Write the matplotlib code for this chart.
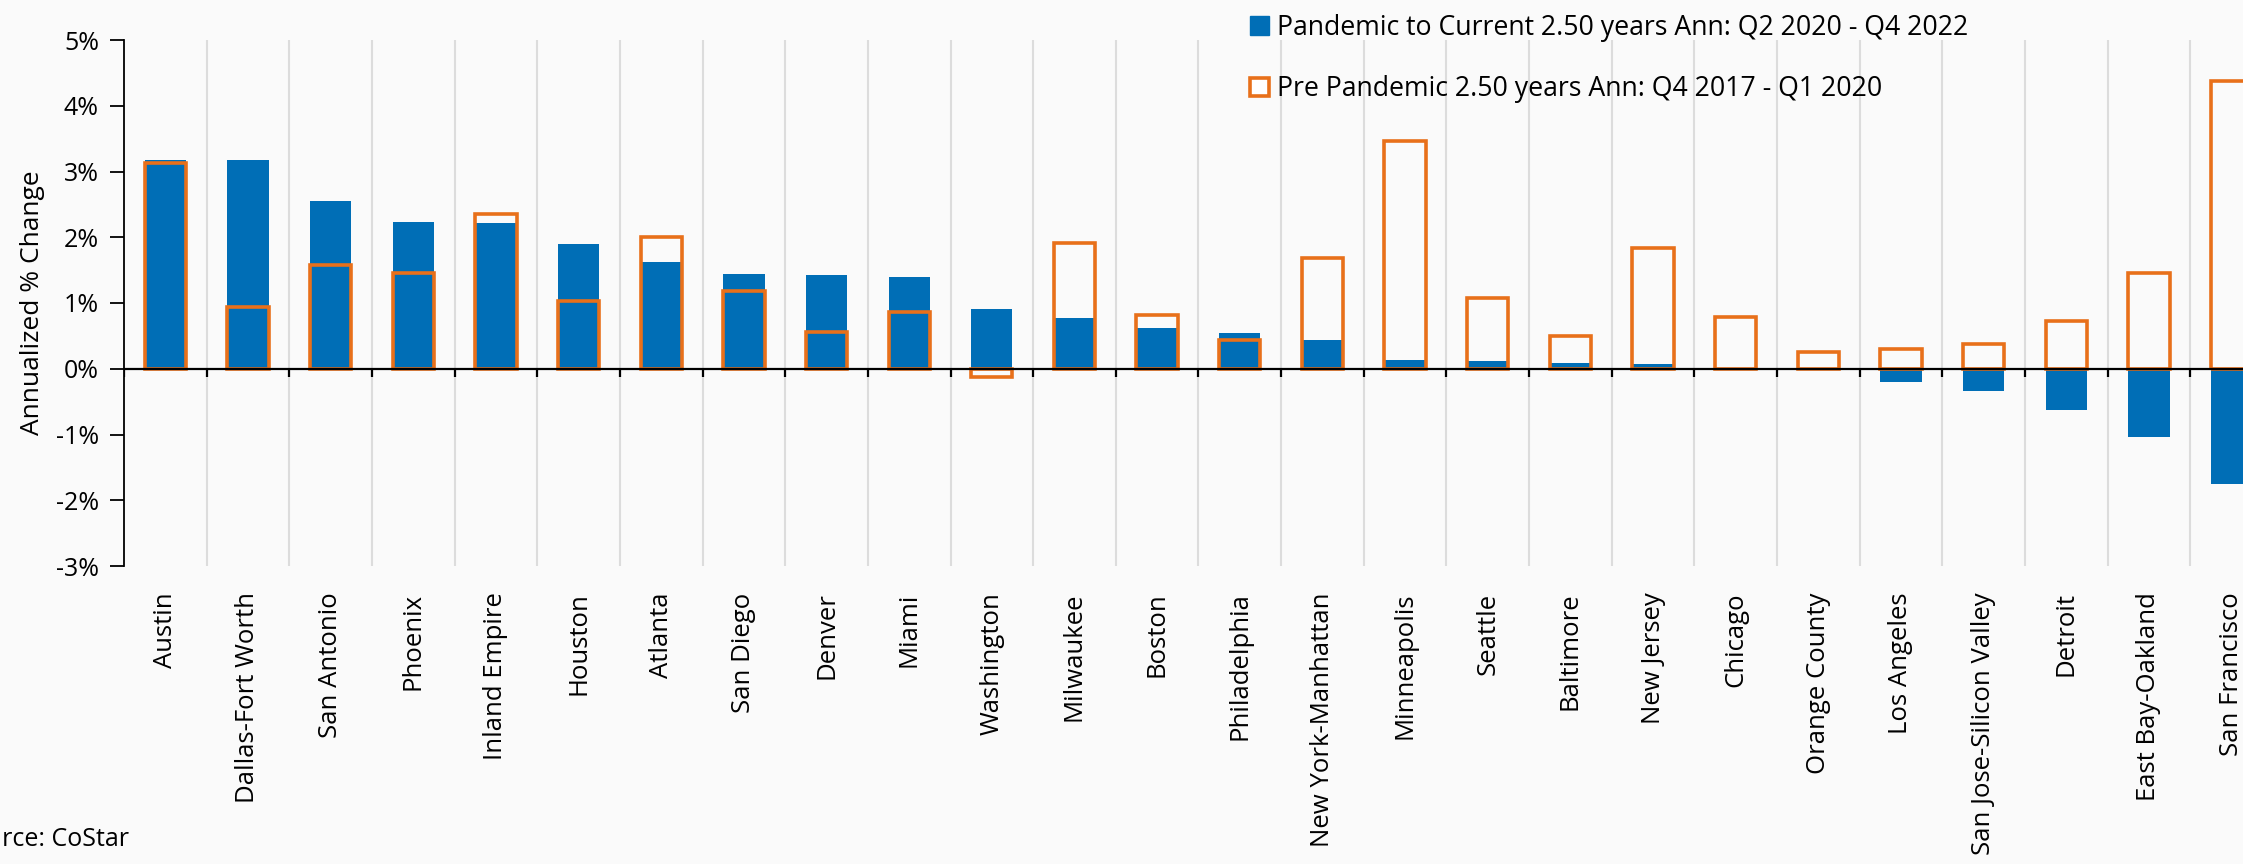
import numpy as np
import matplotlib.pyplot as plt
from matplotlib.patches import Patch

markets = ["Austin", "Dallas-Fort Worth", "San Antonio", "Phoenix", "Inland Empire",
           "Houston", "Atlanta", "San Diego", "Denver", "Miami", "Washington",
           "Milwaukee", "Boston", "Philadelphia", "New York-Manhattan", "Minneapolis",
           "Seattle", "Baltimore", "New Jersey", "Chicago", "Orange County",
           "Los Angeles", "San Jose-Silicon Valley", "Detroit", "East Bay-Oakland",
           "San Francisco"]
pandemic = [3.18, 3.17, 2.55, 2.23, 2.21, 1.90, 1.63, 1.44, 1.43, 1.39, 0.91,
            0.77, 0.62, 0.54, 0.43, 0.14, 0.12, 0.09, 0.07, 0.01, -0.02,
            -0.20, -0.34, -0.62, -1.04, -1.75]
pre_pandemic = [3.13, 0.94, 1.58, 1.45, 2.36, 1.03, 2.01, 1.19, 0.56, 0.86, -0.12,
                1.91, 0.82, 0.44, 1.68, 3.46, 1.08, 0.50, 1.83, 0.79, 0.25,
                0.30, 0.37, 0.72, 1.45, 4.37]
yticks = [-3, -2, -1, 0, 1, 2, 3, 4, 5]

blue = "#006EB6"
orange = "#E8701A"
bg = "#FAFAFA"

plt.rcParams["font.family"] = ["Open Sans", "DejaVu Sans"]
plt.rcParams["font.size"] = 18

W, H = 2243, 864
fig = plt.figure(figsize=(W / 100, H / 100), dpi=100, facecolor=bg)
n = len(markets)
ax = fig.add_axes([124 / W, 1 - 566 / H, n * 82.65 / W, (566 - 40) / H], facecolor=bg)

x = np.arange(n)
ax.bar(x, pandemic, width=0.5, color=blue, zorder=2)
ax.bar(x, pre_pandemic, width=0.5, fill=False, edgecolor=orange, linewidth=2.6, zorder=3)

bounds = np.arange(n) + 0.5
ax.set_xlim(-0.5, n - 0.5)
ax.set_ylim(-3, 5)
ax.set_xticks(bounds, minor=True)
ax.grid(True, which="minor", axis="x", color="#DCDCDC", linewidth=1.5, zorder=0)
ax.set_xticks(x)
ax.set_xticklabels(markets, rotation=90, va="top", ha="center", fontsize=18.5)
ax.tick_params(axis="x", which="both", length=0, pad=19)

ax.axhline(0, color="black", linewidth=1.6, zorder=4)
ax.vlines(np.append(-0.5, bounds), -0.13, 0, color="black", linewidth=1.6, zorder=4)

ax.set_yticks(yticks)
ax.set_yticklabels([f"{v}%" for v in yticks])
ax.tick_params(axis="y", length=10, width=1.3, pad=8)
ax.set_ylabel("Annualized % Change", fontsize=19, labelpad=8)

for s in ["top", "right", "bottom"]:
    ax.spines[s].set_visible(False)
ax.spines["left"].set_linewidth(1.3)

handles = [Patch(facecolor=blue, edgecolor=blue),
           Patch(facecolor="white", edgecolor=orange, linewidth=2.6)]
labels = ["Pandemic to Current 2.50 years Ann: Q2 2020 - Q4 2022",
          "Pre Pandemic 2.50 years Ann: Q4 2017 - Q1 2020"]
fig.legend(handles, labels, loc="upper left", bbox_to_anchor=(1250 / W, 1 - 14 / H),
           frameon=False, handlelength=0.7, handleheight=0.7, handletextpad=0.3,
           labelspacing=1.25, borderaxespad=0, borderpad=0, fontsize=19.2)

fig.text(129 / W, 1 - 840 / H, "Source: CoStar", ha="right", va="center")

fig.savefig("out.png", dpi=100, facecolor=bg)
